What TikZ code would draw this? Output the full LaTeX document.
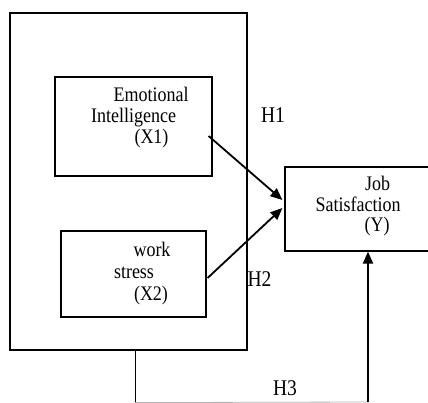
\documentclass[tikz,border=0pt]{standalone}
\usepackage{fontspec}
\setmainfont{Liberation Serif}
\usetikzlibrary{arrows.meta,calc}
\tikzset{
  box/.style={draw, line width=1.2pt, inner sep=0pt},
  txt/.style={anchor=base, inner sep=0pt, font=\fontsize{18}{20}\selectfont, yscale=1.15},
  hlab/.style={anchor=base, inner sep=0pt, font=\fontsize{19.5}{22}\selectfont, yscale=1.15},
  arr/.style={line width=1.8pt, -{Triangle[length=12pt,width=10pt]}},
}
\begin{document}
\begin{tikzpicture}[x=1pt,y=-1pt]
\useasboundingbox (0,0) rectangle (428,403);
\clip (0,0) rectangle (428,403);
% boxes
\node[box, minimum width=237pt, minimum height=337pt] (outer) at (128.5,181.5) {};
\node[box, minimum width=157pt, minimum height=99pt] (x1) at (133.5,126.5) {};
\node[box, minimum width=145pt, minimum height=86pt] (x2) at (133.5,274) {};
\node[box, minimum width=155pt, minimum height=84pt] (y) at (362.5,209) {};
% texts
\node[txt] (t1a) at (151,102) {Emotional};
\node[txt] (t1b) at (133.5,123) {Intelligence};
\node[txt] (t1c) at (151.5,144) {(X1)};
\node[txt] (t2a) at (152,257) {work};
\node[txt] (t2b) at (134,279) {stress};
\node[txt] (t2c) at (151,300) {(X2)};
\node[txt] (t3a) at (377.5,191) {Job};
\node[txt] (t3b) at (358,212) {Satisfaction};
\node[txt] (t3c) at (377,232) {(Y)};
\node[hlab] (h1) at (273,123) {H1};
\node[hlab] (h2) at (259.5,287) {H2};
\node[hlab] (h3) at (285,395) {H3};
% connectors
\draw[arr] ($(x1.east)+(-4,9.5)$) -- ($(y.west)+(-2,-9)$);
\draw[arr] ($(x2.east)+(1,4)$) -- ($(y.west)+(-2,-1)$);
\coordinate (c1) at ($(outer.south)+(6.5,52)$);
\coordinate (c2) at (368,402);
\draw[line width=1pt] ($(outer.south)+(6.5,0)$) -- (c1);
\draw[line width=0.8pt, gray!60] (c1) -- (c2);
\draw[arr] (c2) -- (c2 |- y.south);
\end{tikzpicture}
\end{document}
